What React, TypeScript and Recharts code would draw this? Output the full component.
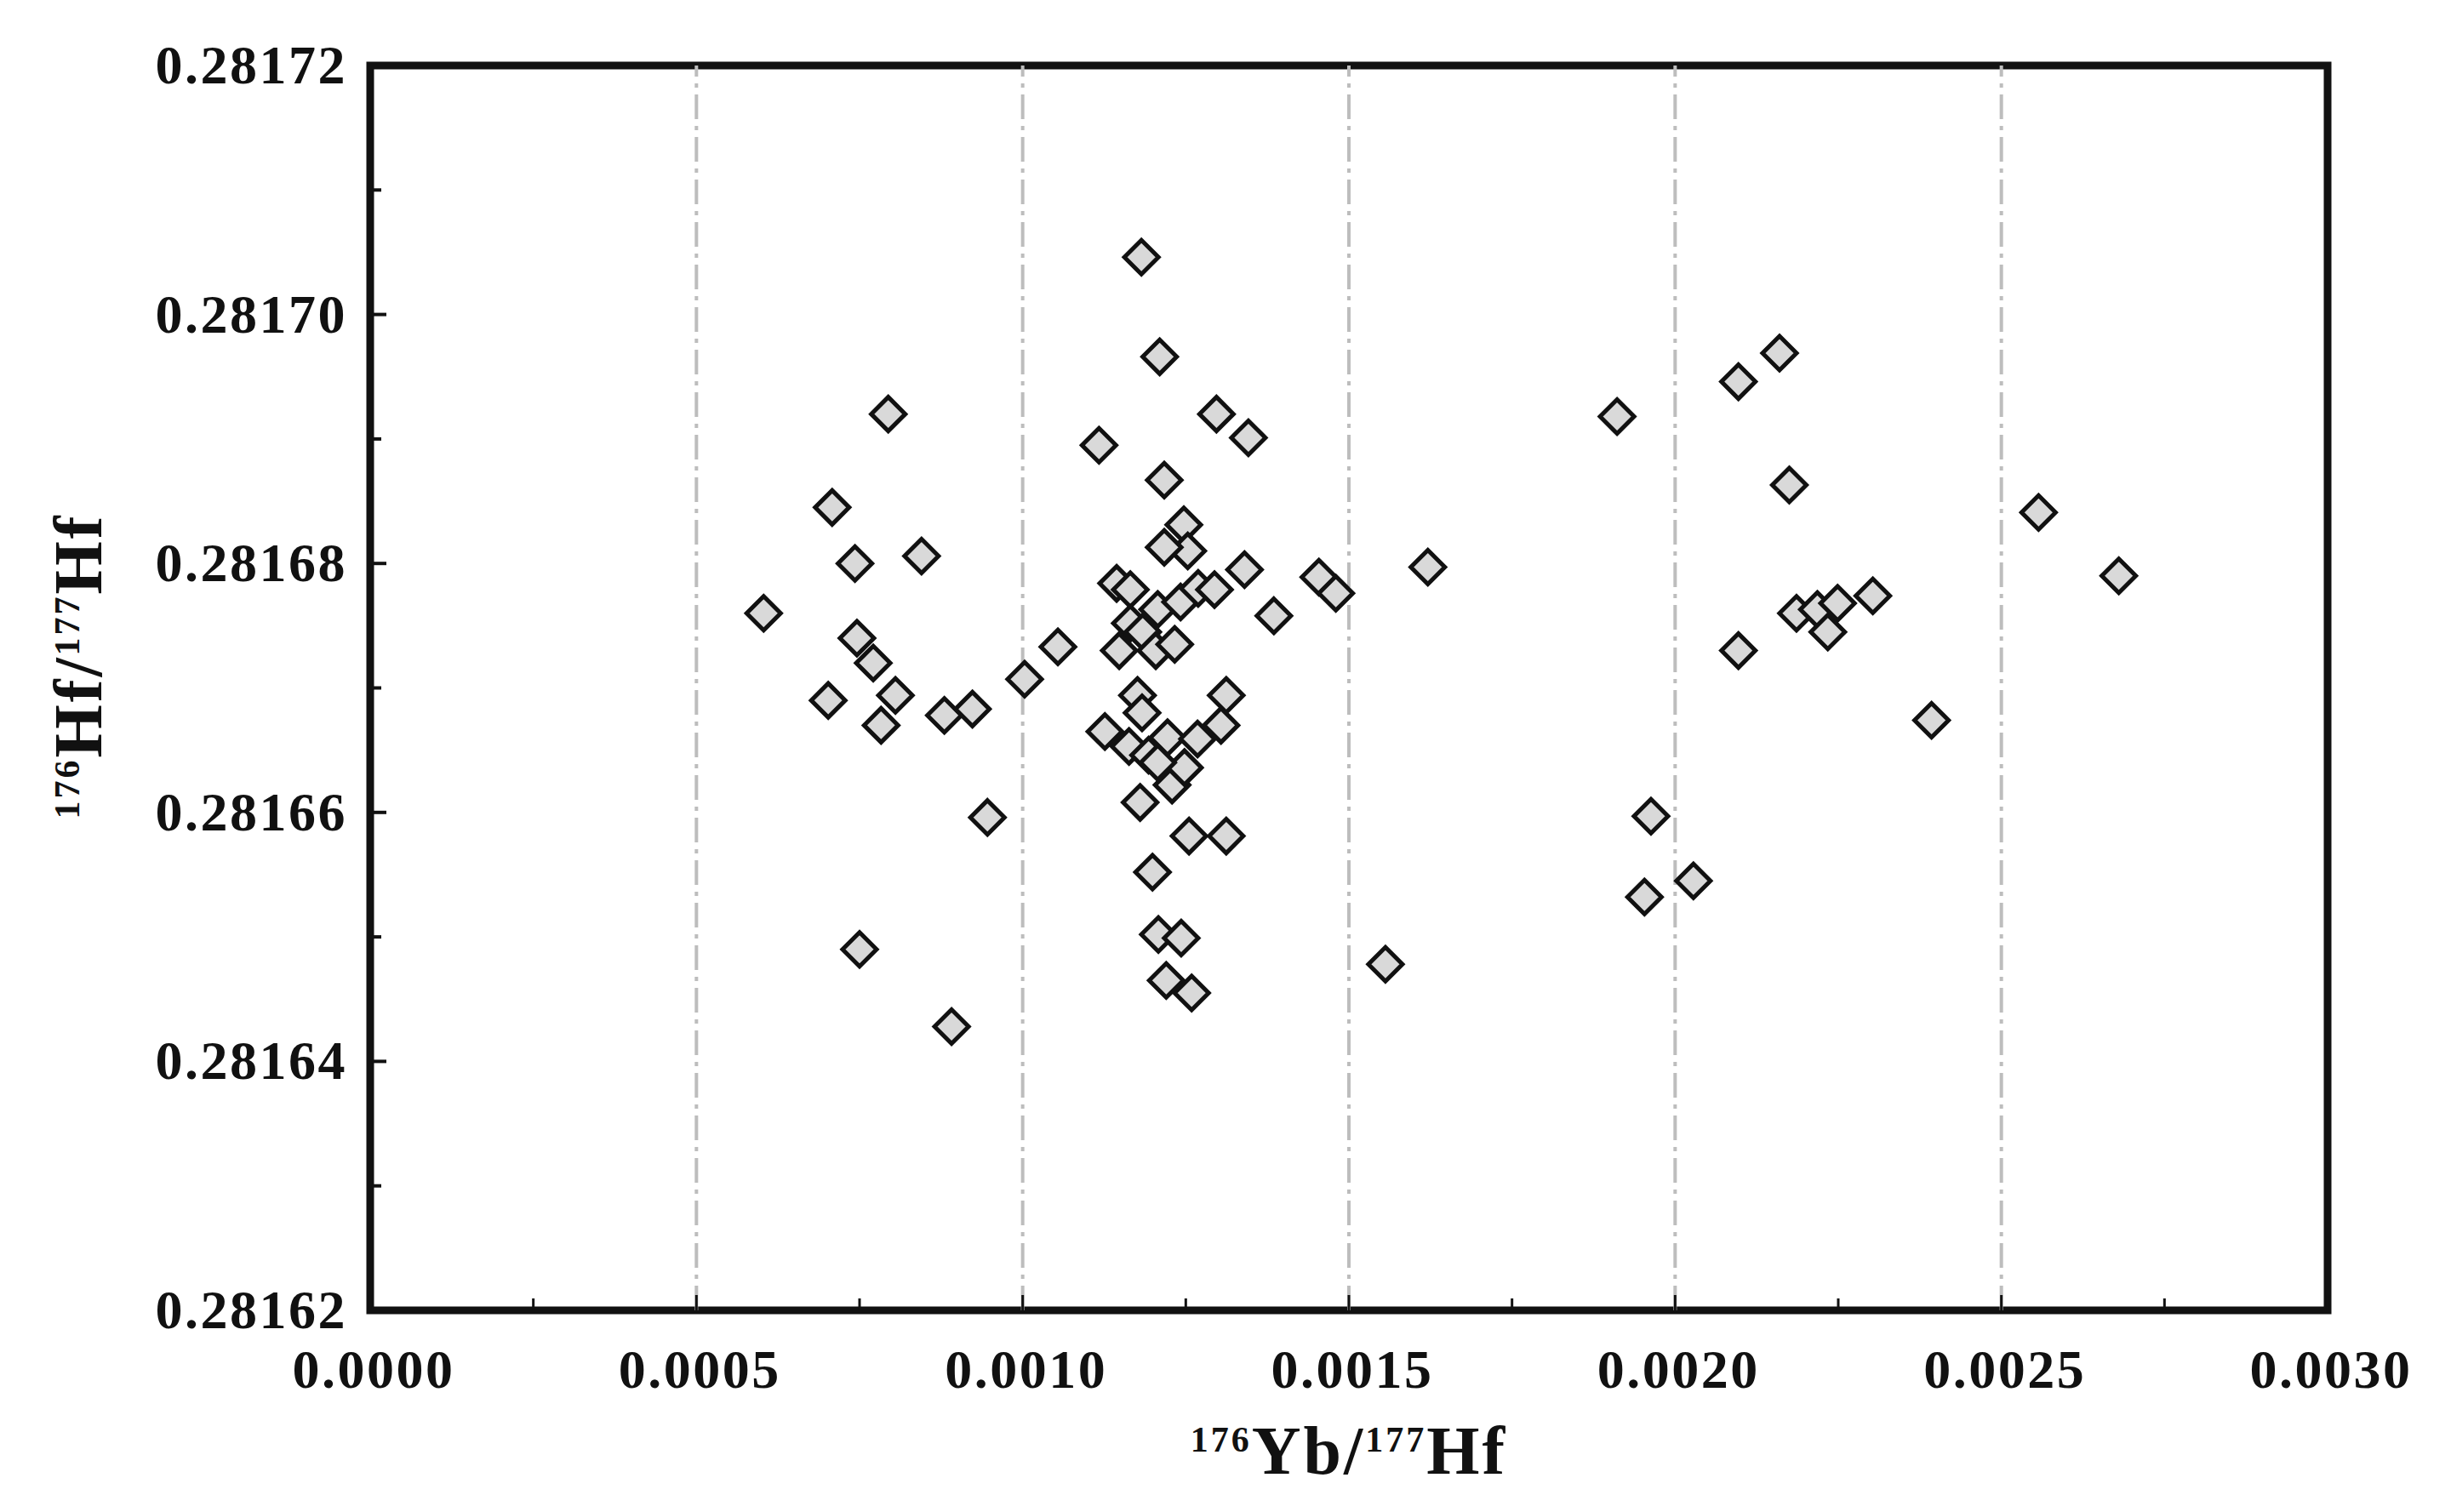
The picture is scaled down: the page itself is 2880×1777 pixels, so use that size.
import {
  Label,
  ReferenceArea,
  ReferenceLine,
  Scatter,
  ScatterChart,
  XAxis,
  YAxis,
} from "recharts";

// 176Yb/177Hf and 176Hf/177Hf, grouped by cluster
const ybLeft = [
  0.000603, 0.000702, 0.000708, 0.000743, 0.000746, 0.000771, 0.000783, 0.000794,
  0.000805, 0.00075, 0.000845, 0.00088, 0.000923, 0.000946, 0.000891, 0.001003, 0.001054,
];
const hfLeft = [
  0.281676, 0.281669, 0.2816845, 0.28168, 0.281674, 0.281672, 0.281667, 0.281692,
  0.2816694, 0.281649, 0.2816806, 0.2816678, 0.2816683, 0.2816596, 0.2816428, 0.2816707, 0.2816733,
];

const ybMid = [
  0.001182, 0.00121, 0.001117, 0.001297, 0.001346, 0.001217, 0.001247, 0.001253,
  0.001217, 0.001144, 0.001165, 0.001165, 0.001184, 0.001148, 0.001204, 0.001233,
  0.001207, 0.001242, 0.001269, 0.001294, 0.00134, 0.001385, 0.001454, 0.00148,
  0.001621, 0.001176, 0.001183, 0.001126, 0.001163, 0.001193, 0.001222, 0.001229,
  0.001248, 0.001268, 0.001304, 0.001312, 0.00118, 0.001255, 0.001312, 0.001199,
  0.001208, 0.001243, 0.00122, 0.001259, 0.001556, 0.001207,
];
const hfMid = [
  0.2817046, 0.2816966, 0.2816895, 0.281692, 0.2816901, 0.2816867, 0.2816831, 0.281681,
  0.2816813, 0.2816784, 0.2816779, 0.2816752, 0.2816745, 0.281673, 0.281673, 0.2816735,
  0.2816763, 0.2816769, 0.281678, 0.2816779, 0.2816795, 0.2816758, 0.2816789, 0.2816776,
  0.2816797, 0.2816694, 0.281668, 0.2816665, 0.2816653, 0.2816646, 0.281666, 0.2816622,
  0.2816636, 0.2816659, 0.281667, 0.2816694, 0.2816608, 0.2816581, 0.2816581, 0.2816552,
  0.2816502, 0.2816499, 0.2816465, 0.2816455, 0.2816478, 0.281664,
];

const ybRight = [
  0.001911, 0.002097, 0.00216, 0.002175, 0.002557, 0.00268, 0.002186, 0.002218,
  0.002234, 0.002249, 0.002303, 0.002097, 0.002393, 0.001963, 0.002028, 0.001953,
];
const hfRight = [
  0.2816918, 0.2816946, 0.2816969, 0.2816863, 0.2816841, 0.281679, 0.281676, 0.2816763,
  0.2816745, 0.2816768, 0.2816774, 0.281673, 0.2816674, 0.2816597, 0.2816545, 0.2816532,
];

const xTicks = [
  0, 0.00025, 0.0005, 0.00075, 0.001, 0.00125, 0.0015, 0.00175, 0.002, 0.00225,
  0.0025, 0.00275, 0.003,
];
const yTicks = [
  0.28162, 0.28163, 0.28164, 0.28165, 0.28166, 0.28167, 0.28168, 0.28169, 0.2817,
  0.28171, 0.28172,
];
const gridX = [0.0005, 0.001, 0.0015, 0.002, 0.0025];

const points = [
  ...ybLeft.map((x, i) => ({ x, y: hfLeft[i] })),
  ...ybMid.map((x, i) => ({ x, y: hfMid[i] })),
  ...ybRight.map((x, i) => ({ x, y: hfRight[i] })),
];

const FONT = '"Liberation Serif", "Times New Roman", serif';
const INK = "#111";

function Diamond(props: any) {
  const { cx, cy } = props;
  const r = 20;
  return (
    <polygon
      points={`${cx},${cy - r} ${cx + r},${cy} ${cx},${cy + r} ${cx - r},${cy}`}
      fill="#d9d9d9"
      stroke={INK}
      strokeWidth={5}
    />
  );
}

function YTick(props: any) {
  const { x, y, payload, index } = props;
  const major = index % 2 === 0;
  return (
    <g>
      <line x1={x} x2={x + (major ? 19 : 13)} y1={y} y2={y} stroke={INK} strokeWidth={4} />
      {major && (
        <text
          x={x - 27}
          y={y + 21}
          textAnchor="end"
          fontFamily={FONT}
          fontWeight="bold"
          fontSize={64}
          letterSpacing={2.5}
          fill={INK}
        >
          {payload.value.toFixed(5)}
        </text>
      )}
    </g>
  );
}

function XTick(props: any) {
  const { x, y, payload, index } = props;
  const major = index % 2 === 0;
  return (
    <g>
      <line x1={x} x2={x} y1={y} y2={y - (major ? 18 : 14)} stroke={INK} strokeWidth={3} />
      {major && (
        <text
          x={x + 4}
          y={y + 91}
          textAnchor="middle"
          fontFamily={FONT}
          fontWeight="bold"
          fontSize={64}
          letterSpacing={2.5}
          fill={INK}
        >
          {payload.value.toFixed(4)}
        </text>
      )}
    </g>
  );
}

function XTitle(props: any) {
  const { x, y, width } = props.viewBox;
  return (
    <text
      x={x + width / 2}
      y={y + 192}
      textAnchor="middle"
      fontFamily={FONT}
      fontWeight="bold"
      fontSize={80}
      letterSpacing={3}
      fill={INK}
    >
      <tspan fontSize={42} dy={-26}>176</tspan>
      <tspan dy={26}>Yb/</tspan>
      <tspan fontSize={42} dy={-26}>177</tspan>
      <tspan dy={26}>Hf</tspan>
    </text>
  );
}

function YTitle() {
  const cx = 119;
  const cy = 783;
  return (
    <text
      x={cx}
      y={cy}
      transform={`rotate(-90, ${cx}, ${cy})`}
      textAnchor="middle"
      fontFamily={FONT}
      fontWeight="bold"
      fontSize={80}
      letterSpacing={3}
      fill={INK}
    >
      <tspan fontSize={42} dy={-26}>176</tspan>
      <tspan dy={26}>Hf/</tspan>
      <tspan fontSize={42} dy={-26}>177</tspan>
      <tspan dy={26}>Hf</tspan>
    </text>
  );
}

export default function App() {
  return (
    <div style={{ position: "absolute", left: 0, top: 0, width: 2880, height: 1777, background: "#fff" }}>
      <ScatterChart
        width={2880}
        height={1777}
        margin={{ top: 77, right: 145, bottom: 37, left: 135 }}
      >
        <XAxis
          type="number"
          dataKey="x"
          domain={[0, 0.003]}
          ticks={xTicks}
          interval={0}
          tick={<XTick />}
          tickLine={false}
          axisLine={false}
          tickSize={0}
          tickMargin={0}
          height={200}
          label={<Label content={XTitle} />}
        />
        <YAxis
          type="number"
          dataKey="y"
          domain={[0.28162, 0.28172]}
          ticks={yTicks}
          interval={0}
          tick={<YTick />}
          tickLine={false}
          axisLine={false}
          tickSize={0}
          tickMargin={0}
          width={300}
          label={<Label content={YTitle} />}
        />
        {gridX.map((v) => (
          <ReferenceLine
            key={v}
            x={v}
            stroke="#bdbdbd"
            strokeWidth={4}
            strokeDasharray="29 8 5 8"
          />
        ))}
        <ReferenceArea
          x1={0}
          x2={0.003}
          y1={0.28162}
          y2={0.28172}
          fill="none"
          fillOpacity={0}
          stroke={INK}
          strokeWidth={9}
        />
        <Scatter data={points} shape={Diamond} isAnimationActive={false} />
      </ScatterChart>
    </div>
  );
}
